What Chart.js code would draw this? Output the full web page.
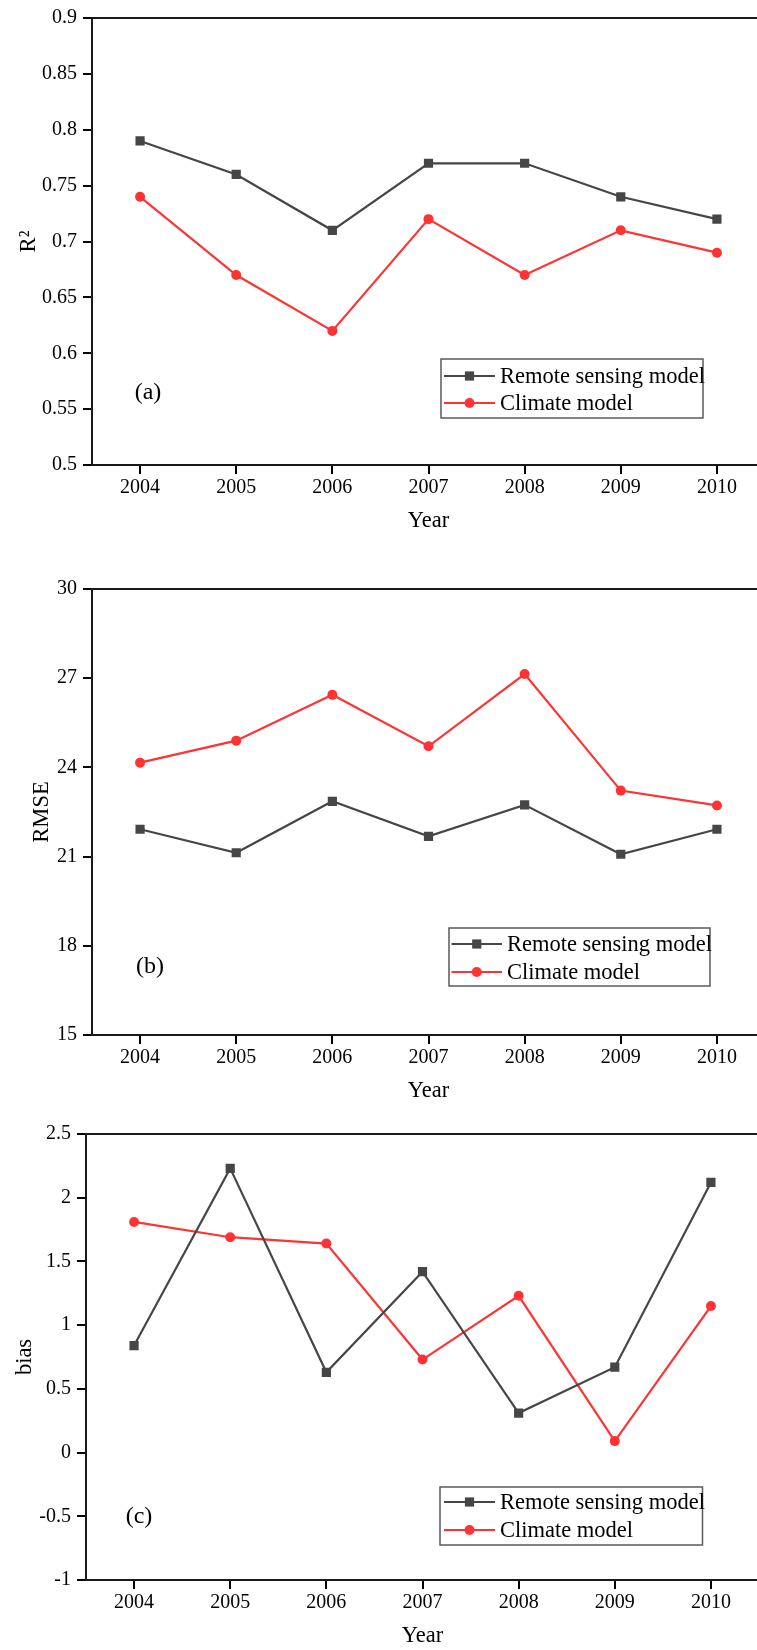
<!DOCTYPE html>
<html><head><meta charset="utf-8">
<script src="https://cdn.jsdelivr.net/npm/chart.js@4"></script>
<style>
html,body{margin:0;padding:0;background:#fff;width:757px;height:1650px;overflow:hidden;}
#wrap{position:relative;width:757px;height:1650px;overflow:hidden;background:#fff;}
canvas{position:absolute;left:0;}
</style></head><body>
<div id="wrap">
<canvas id="cA" width="800" height="545" style="top:0px"></canvas>
<canvas id="cB" width="800" height="560" style="top:545px"></canvas>
<canvas id="cC" width="800" height="545" style="top:1105px"></canvas>
</div>
<script>
const years = ['2004','2005','2006','2007','2008','2009','2010'];
const seriesNames = ['Remote sensing model','Climate model'];
const r2Remote = [0.79,0.76,0.71,0.77,0.77,0.74,0.72];
const r2Climate = [0.74,0.67,0.62,0.72,0.67,0.71,0.69];
const rmseRemote = [21.92,21.13,22.86,21.68,22.74,21.08,21.92];
const rmseClimate = [24.16,24.90,26.44,24.71,27.14,23.22,22.72];
const biasRemote = [0.84,2.23,0.63,1.42,0.31,0.67,2.12];
const biasClimate = [1.81,1.69,1.64,0.73,1.23,0.09,1.15];
const r2TickValues = [0.5,0.55,0.6,0.65,0.7,0.75,0.8,0.85,0.9];
const r2TickLabels = ['0.5','0.55','0.6','0.65','0.7','0.75','0.8','0.85','0.9'];
const rmseTickValues = [15,18,21,24,27,30];
const rmseTickLabels = ['15','18','21','24','27','30'];
const biasTickValues = [-1,-0.5,0,0.5,1,1.5,2,2.5];
const biasTickLabels = ['-1','-0.5','0','0.5','1','1.5','2','2.5'];

const FONT = "'Liberation Serif', 'Times New Roman', serif";
const GREY = '#464646';
const RED = '#ff3333';

function drawMarker(ctx, style, r, x, y, color) {
  ctx.fillStyle = color;
  ctx.beginPath();
  if (style === 'rect') {
    const s = Math.SQRT1_2 * r;
    ctx.rect(x - s, y - s, 2 * s, 2 * s);
  } else {
    ctx.arc(x, y, r, 0, Math.PI * 2);
  }
  ctx.fill();
}

const framePlugin = {
  id: 'frame',
  beforeDatasetsDraw(chart) {
    const a = chart.chartArea, ctx = chart.ctx;
    ctx.save();
    ctx.strokeStyle = '#1a1a1a';
    ctx.lineWidth = 2;
    ctx.strokeRect(a.left, a.top, a.right - a.left, a.bottom - a.top);
    ctx.restore();
  }
};

const boxLegendPlugin = {
  id: 'boxLegend',
  afterDraw(chart, args, o) {
    const ctx = chart.ctx;
    ctx.save();
    ctx.fillStyle = '#fff';
    ctx.fillRect(o.left, o.top, o.width, o.height);
    ctx.strokeStyle = '#5a5a5a';
    ctx.lineWidth = 1.5;
    ctx.strokeRect(o.left, o.top, o.width, o.height);
    chart.data.datasets.forEach((ds, i) => {
      const y = o.rowY[i];
      ctx.strokeStyle = ds.borderColor;
      ctx.lineWidth = ds.borderWidth;
      ctx.beginPath();
      ctx.moveTo(o.lineX0, y);
      ctx.lineTo(o.lineX1, y);
      ctx.stroke();
      drawMarker(ctx, ds.pointStyle, ds.pointRadius, (o.lineX0 + o.lineX1) / 2, y, ds.pointBackgroundColor);
      ctx.fillStyle = '#000';
      ctx.font = '22.5px ' + FONT;
      ctx.textAlign = 'left';
      ctx.textBaseline = 'middle';
      ctx.fillText(ds.label, o.textX, y + 1);
    });
    ctx.font = '24px ' + FONT;
    ctx.textAlign = 'center';
    ctx.textBaseline = 'middle';
    ctx.fillStyle = '#000';
    ctx.fillText(o.tag, o.tagX, o.tagY);
    ctx.restore();
  }
};

function makeChart(id, remote, climate, tickValues, tickLabels, yTitle, c) {
  return new Chart(document.getElementById(id), {
    type: 'line',
    data: {
      labels: years,
      datasets: [
        { label: seriesNames[0], data: remote, borderColor: GREY, backgroundColor: GREY,
          pointBackgroundColor: GREY, pointBorderColor: GREY, borderWidth: 2.2,
          pointStyle: 'rect', pointRadius: 6.5, pointBorderWidth: 0, tension: 0 },
        { label: seriesNames[1], data: climate, borderColor: RED, backgroundColor: RED,
          pointBackgroundColor: RED, pointBorderColor: RED, borderWidth: 2.2,
          pointStyle: 'circle', pointRadius: 5, pointBorderWidth: 0, tension: 0 }
      ]
    },
    options: {
      responsive: false,
      animation: false,
      devicePixelRatio: 1,
      layout: { padding: { left: 0, top: c.padTop, right: c.padRight, bottom: c.padBottom } },
      plugins: {
        legend: { display: false },
        tooltip: { enabled: false },
        boxLegend: c.legend
      },
      scales: {
        x: {
          type: 'category',
          offset: true,
          grid: { drawOnChartArea: false, drawTicks: true, tickLength: 9, color: '#000', lineWidth: 2, offset: false },
          border: { display: true, color: '#1a1a1a', width: 2 },
          ticks: { font: { family: FONT, size: 20 }, color: '#000', padding: 2, maxRotation: 0, autoSkip: false },
          title: { display: true, text: 'Year', font: { family: FONT, size: 22.5 }, color: '#000', padding: { top: 0, bottom: 0 } },
          afterFit: (s) => { s.height = 70; }
        },
        y: {
          type: 'linear',
          min: tickValues[0],
          max: tickValues[tickValues.length - 1],
          afterBuildTicks: (s) => { s.ticks = tickValues.map(v => ({ value: v })); },
          grid: { drawOnChartArea: false, drawTicks: true, tickLength: 9, color: '#000', lineWidth: 2 },
          border: { display: true, color: '#1a1a1a', width: 2 },
          ticks: { font: { family: FONT, size: 20 }, color: '#000', padding: 6,
                   callback: (v) => tickLabels[tickValues.indexOf(v)] },
          title: { display: true, text: yTitle, font: { family: FONT, size: 22.5 }, color: '#000', padding: { top: c.titlePad, bottom: 0 } },
          afterFit: (s) => { s.width = c.yWidth; }
        }
      }
    },
    plugins: [framePlugin, boxLegendPlugin]
  });
}

makeChart('cA', r2Remote, r2Climate, r2TickValues, r2TickLabels, 'R\u00B2', {
  padTop: 18, padRight: 35, padBottom: 10, yWidth: 92, titlePad: 16,
  legend: { left: 441, top: 359, width: 262, height: 59, rowY: [376, 403], lineX0: 444, lineX1: 495, textX: 500, tag: '(a)', tagX: 148, tagY: 393 }
});
makeChart('cB', rmseRemote, rmseClimate, rmseTickValues, rmseTickLabels, 'RMSE', {
  padTop: 44, padRight: 35, padBottom: 0, yWidth: 92, titlePad: 29,
  legend: { left: 449, top: 383, width: 261, height: 58, rowY: [399, 427], lineX0: 451.5, lineX1: 502, textX: 507, tag: '(b)', tagX: 150, tagY: 422 }
});
makeChart('cC', biasRemote, biasClimate, biasTickValues, biasTickLabels, 'bias', {
  padTop: 29, padRight: 41, padBottom: 0, yWidth: 86, titlePad: 12,
  legend: { left: 440, top: 382, width: 262.5, height: 58, rowY: [397, 425], lineX0: 444, lineX1: 495, textX: 500, tag: '(c)', tagX: 139, tagY: 412 }
});
</script>
</body></html>
